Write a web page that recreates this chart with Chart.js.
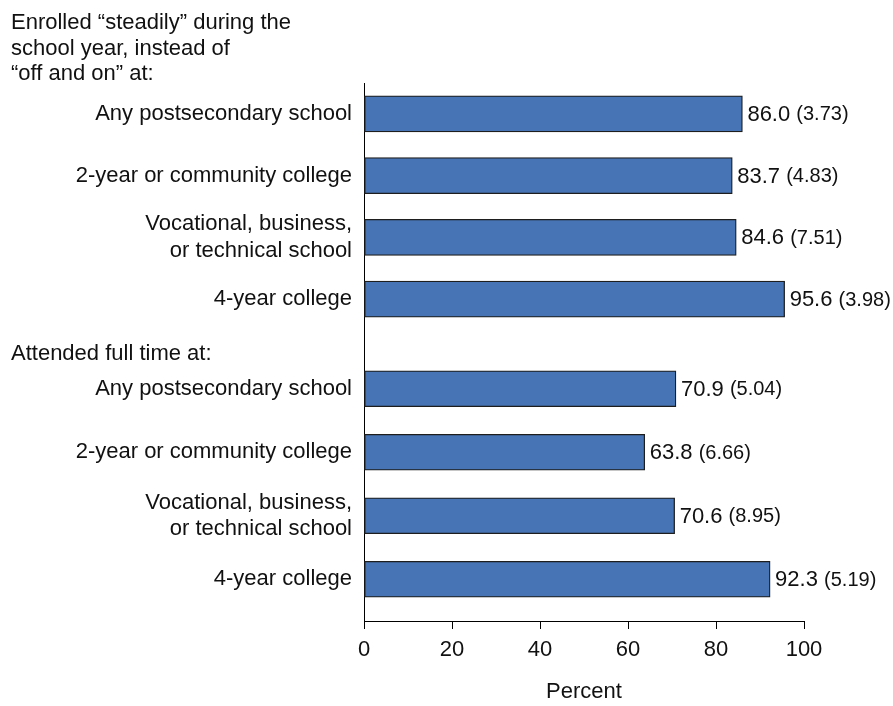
<!DOCTYPE html>
<html>
<head>
<meta charset="utf-8">
<script src="https://cdn.jsdelivr.net/npm/chart.js@4"></script>
<style>
  body { margin: 0; background: #fff; }
  #wrap { width: 893px; height: 706px; }
</style>
</head>
<body>
<div id="wrap"><canvas id="myChart" width="893" height="706"></canvas></div>
<script>
// Row labels (same for both groups)
var schoolTypes = ['Any postsecondary school', '2-year or community college', ['Vocational, business,', 'or technical school'], '4-year college'];
// Group headings
var steadyHeading = ['Enrolled \u201csteadily\u201d during the', 'school year, instead of', '\u201coff and on\u201d at:'];
var fullTimeHeading = 'Attended full time at:';
// Percent and standard errors
var steadily = [86.0, 83.7, 84.6, 95.6];
var steadilySE = [3.73, 4.83, 7.51, 3.98];
var fullTime = [70.9, 63.8, 70.6, 92.3];
var fullTimeSE = [5.04, 6.66, 8.95, 5.19];
// x axis
var xTicks = [0, 20, 40, 60, 80, 100];

var FONT = "'Liberation Sans', Arial, sans-serif";
var INK = '#111';

function fixWidth(scale) { scale.width = 364; }

var headings = {
  id: 'headings',
  afterDraw: function(chart) {
    var ctx = chart.ctx;
    ctx.save();
    ctx.fillStyle = INK;
    ctx.font = '22px ' + FONT;
    ctx.textAlign = 'left';
    ctx.textBaseline = 'middle';
    steadyHeading.forEach(function(line, i) {
      ctx.fillText(line, 11, 23 + i * 25.5);
    });
    ctx.fillText(fullTimeHeading, 11, 354);
    ctx.restore();
  }
};

var valueLabels = {
  id: 'valueLabels',
  afterDatasetsDraw: function(chart) {
    var ctx = chart.ctx;
    var errs = [steadilySE, fullTimeSE];
    ctx.save();
    ctx.fillStyle = INK;
    ctx.textBaseline = 'middle';
    ctx.textAlign = 'left';
    chart.data.datasets.forEach(function(ds, d) {
      chart.getDatasetMeta(d).data.forEach(function(bar, i) {
        var main = ds.data[i].toFixed(1);
        ctx.font = '22px ' + FONT;
        var x = bar.x + 5;
        ctx.fillText(main, x, bar.y + 1);
        var w = ctx.measureText(main + ' ').width;
        ctx.font = '20px ' + FONT;
        ctx.fillText('(' + errs[d][i].toFixed(2) + ')', x + w, bar.y + 1);
      });
    });
    ctx.restore();
  }
};

function catAxis(labels, weight, stackWeight, showTicks) {
  return {
    type: 'category',
    position: 'left',
    stack: 'rows',
    stackWeight: stackWeight,
    weight: weight,
    labels: labels,
    offset: true,
    afterFit: fixWidth,
    grid: { display: false, drawTicks: false },
    border: { display: true, color: '#000', width: 1 },
    ticks: {
      display: showTicks,
      autoSkip: false,
      padding: 12,
      color: INK,
      font: { size: 22, family: FONT }
    }
  };
}

var ctx = document.getElementById('myChart');

var myChart = new Chart(ctx, {
  type: 'bar',
  data: {
    datasets: [
      {
        data: steadily,
        yAxisID: 'yA',
        grouped: false,
        backgroundColor: '#4674b4',
        borderColor: '#1e1e1e',
        borderWidth: 1.3,
        borderSkipped: false,
        barThickness: 36
      },
      {
        data: fullTime,
        yAxisID: 'yB',
        grouped: false,
        backgroundColor: '#4674b4',
        borderColor: '#1e1e1e',
        borderWidth: 1.3,
        borderSkipped: false,
        barThickness: 36
      }
    ]
  },
  options: {
    indexAxis: 'y',
    responsive: false,
    animation: false,
    layout: { padding: { top: 83, right: 89, left: 0, bottom: 0 } },
    plugins: {
      legend: { display: false },
      tooltip: { enabled: false }
    },
    scales: {
      x: {
        type: 'linear',
        position: 'bottom',
        min: 0,
        max: 100,
        afterBuildTicks: function(scale) {
          scale.ticks = xTicks.map(function(v) { return { value: v }; });
        },
        afterFit: function(scale) { scale.height = 85; },
        grid: { display: true, drawOnChartArea: false, drawTicks: true, tickLength: 8, color: '#000', lineWidth: 1 },
        border: { display: true, color: '#000', width: 1 },
        ticks: { padding: 8, color: INK, font: { size: 22, family: FONT } },
        title: { display: true, text: 'Percent', color: INK, font: { size: 22, family: FONT }, padding: { top: 0, bottom: 1 } }
      },
      yA: catAxis(schoolTypes, 4, 247, true),
      yGap: catAxis([''], 3, 27, false),
      yB: catAxis(schoolTypes, 2, 254, true),
      yGap2: catAxis([''], 1, 10, false)
    }
  },
  plugins: [headings, valueLabels]
});
</script>
</body>
</html>
